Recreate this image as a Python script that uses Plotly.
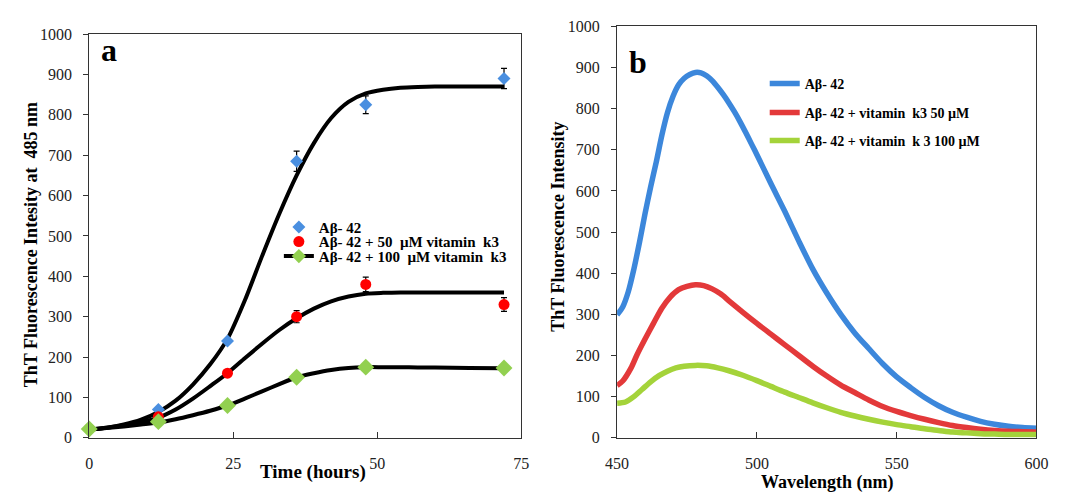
import plotly.graph_objects as go

# ---------------- Panel a data ----------------
time_h = [0, 12, 24, 36, 48, 72]
ab42 = [22, 70, 240, 685, 825, 890]
ab42_err = [0, 4, 6, 25, 22, 25]
k3_50 = [22, 52, 160, 300, 380, 330]
k3_50_err = [0, 4, 5, 15, 18, 17]
k3_100 = [22, 40, 80, 150, 175, 173]
k3_100_err = [0, 3, 4, 6, 8, 6]

# fitted black curves
fit_t = [0, 3, 6, 9, 12, 15, 18, 21, 24, 27, 30, 33, 36, 39, 42, 45, 48, 51, 54, 57, 60, 66, 72]
fit_ab42 = [20, 25, 33, 45, 64, 92, 132, 182, 245, 340, 450, 555, 650, 730, 792, 832, 853, 862, 867, 869, 870, 870, 870]
fit_k3_50 = [20, 25, 31, 39, 50, 70, 97, 128, 160, 197, 233, 267, 296, 320, 338, 350, 357, 359, 360, 360, 360, 360, 360]
fit_k3_100 = [20, 24, 28, 33, 38, 46, 56, 67, 80, 97, 115, 133, 150, 160, 168, 173, 175, 175, 175, 174, 174, 173, 172]

# ---------------- Panel b data ----------------
wl_blue = [450, 452, 454, 456, 458, 460, 462, 464, 466, 468, 470, 472, 474, 476, 478, 480, 482, 484, 486, 488,
           490, 492, 494, 496, 498, 500, 505, 510, 515, 520, 525, 530, 535, 540, 545, 550, 555, 560, 565, 570,
           575, 580, 585, 590, 595, 600]
int_blue = [299, 318, 355, 410, 475, 545, 610, 670, 735, 790, 830, 858, 874, 883, 888, 887, 880, 868, 852, 834,
            814, 792, 768, 742, 715, 688, 618, 550, 478, 410, 352, 300, 255, 217, 180, 148, 122, 98, 78, 62,
            50, 40, 33, 28, 25, 23]
wl_red = [450, 452, 455, 457, 460, 463, 466, 469, 472, 475, 478, 481, 484, 487, 490, 495, 500, 505, 510, 515,
          520, 525, 530, 535, 540, 545, 550, 555, 560, 565, 570, 575, 580, 585, 590, 595, 600]
int_red = [127, 138, 170, 200, 240, 278, 315, 342, 360, 368, 372, 370, 362, 350, 333, 305, 278, 252, 226, 200,
           174, 150, 128, 110, 92, 76, 64, 54, 45, 37, 30, 25, 21, 18, 16, 15, 14]
wl_green = [450, 453, 456, 459, 462, 465, 468, 471, 474, 478, 482, 486, 490, 495, 500, 505, 510, 515, 520, 525,
            530, 535, 540, 545, 550, 555, 560, 565, 570, 575, 580, 585, 590, 595, 600]
int_green = [84, 87, 100, 118, 136, 151, 162, 170, 174, 176, 175, 170, 163, 152, 139, 125, 111, 98, 85, 73,
             62, 53, 45, 38, 32, 27, 22, 18, 14, 12, 10, 9, 8, 8, 8]

names_a = ["Aβ- 42", "Aβ- 42 + 50  µM vitamin  k3", "Aβ- 42 + 100  µM vitamin  k3"]
names_b = ["Aβ- 42", "Aβ- 42 + vitamin  k3 50 µM", "Aβ- 42 + vitamin  k 3 100 µM"]

SERIF = "Liberation Serif, Times New Roman, serif"
W, H = 1069, 498

fig = go.Figure()

# fitted curves (panel a)
for yy in (fit_ab42, fit_k3_50, fit_k3_100):
    fig.add_trace(go.Scatter(x=fit_t, y=yy, mode="lines",
                             line=dict(color="black", width=4, shape="spline", smoothing=0.7),
                             showlegend=False, hoverinfo="skip", xaxis="x", yaxis="y"))

err_style = dict(type="data", color="black", thickness=1.2, width=3, visible=True)
fig.add_trace(go.Scatter(x=time_h, y=ab42, mode="markers", name="<b>%s</b>" % names_a[0],
                         marker=dict(symbol="diamond", size=10, color="#4A8FE0"),
                         error_y=dict(array=ab42_err, **err_style), cliponaxis=False,
                         xaxis="x", yaxis="y", legend="legend"))
fig.add_trace(go.Scatter(x=time_h, y=k3_50, mode="markers", name="<b>%s</b>" % names_a[1],
                         marker=dict(symbol="circle", size=11, color="#FF0000"),
                         error_y=dict(array=k3_50_err, **err_style), cliponaxis=False,
                         xaxis="x", yaxis="y", legend="legend5"))
fig.add_trace(go.Scatter(x=time_h, y=k3_100, mode="markers", name="<b>%s</b>" % names_a[2],
                         marker=dict(symbol="diamond", size=13, color="#92D050"),
                         error_y=dict(array=k3_100_err, **err_style), cliponaxis=False,
                         xaxis="x", yaxis="y", showlegend=False))
# legend entry for the third series (line + marker)
fig.add_trace(go.Scatter(x=[None], y=[None], mode="lines+markers", name="<b>%s</b>" % names_a[2],
                         line=dict(color="black", width=4),
                         marker=dict(symbol="diamond", size=11, color="#92D050"),
                         xaxis="x", yaxis="y", legend="legend6"))

# panel b spectra
cols_b = ["#3C87DB", "#E3393A", "#A4D33A"]
for i, (xx, yy) in enumerate(((wl_blue, int_blue), (wl_red, int_red), (wl_green, int_green))):
    fig.add_trace(go.Scatter(x=xx, y=yy, mode="lines", name="<b>%s</b>" % names_b[i],
                             line=dict(color=cols_b[i], width=5.5, shape="spline", smoothing=0.8),
                             xaxis="x2", yaxis="y2", legend="legend%d" % (i + 2)))


def fx(px):
    return px / W


def fy(py):
    return 1 - py / H


tickfont = dict(family=SERIF, size=16, color="#222")
common_x = dict(showgrid=False, zeroline=False, showline=True, linecolor="#333", linewidth=1.3, mirror=True,
                ticks="inside", ticklen=6, tickcolor="#333", tickfont=tickfont, ticklabelstandoff=11)
common_y = dict(showgrid=False, zeroline=False, showline=True, linecolor="#333", linewidth=1.3, mirror=True,
                ticks="outside", ticklen=5, tickcolor="#333", tickfont=tickfont, range=[0, 1000], dtick=100,
                ticklabelstandoff=8)

leg_font = dict(family=SERIF, size=14, color="black")
leg_font_a = dict(family=SERIF, size=15, color="black")


def leg(px, py, font):
    return dict(x=fx(px), y=fy(py), xanchor="left", yanchor="top", font=font,
                bgcolor="rgba(0,0,0,0)", itemsizing="trace")


fig.update_layout(
    width=W, height=H,
    margin=dict(l=0, r=0, t=0, b=0),
    paper_bgcolor="white", plot_bgcolor="white",
    xaxis=dict(domain=[fx(79), fx(521)], range=[0, 75], tickvals=[0, 25, 50, 75], anchor="y", **common_x),
    yaxis=dict(domain=[fy(445), fy(27)], anchor="x", **common_y),
    xaxis2=dict(domain=[fx(619), fx(1048)], range=[450, 600], tickvals=[450, 500, 550, 600], anchor="y2", **common_x),
    yaxis2=dict(domain=[fy(445), fy(19)], anchor="x2", **common_y),
    legend=leg(273, 210, leg_font_a),
    legend5=leg(273, 225, leg_font_a),
    legend6=leg(273, 240, leg_font_a),
    legend2=leg(770, 62, leg_font),
    legend3=leg(770, 92, leg_font),
    legend4=leg(770, 121, leg_font),
    showlegend=True,
)

ann = [
    dict(text="<b>a</b>", x=fx(99), y=fy(43), font=dict(family=SERIF, size=32, color="black")),
    dict(text="<b>b</b>", x=fx(640), y=fy(56), font=dict(family=SERIF, size=32, color="black")),
    dict(text="<b>Time (hours)</b>", x=fx(308), y=fy(480), font=dict(family=SERIF, size=19, color="black")),
    dict(text="<b>Wavelength (nm)</b>", x=fx(834), y=fy(491), font=dict(family=SERIF, size=18, color="black")),
    dict(text="<b>ThT Fluorescence Intesity at  485 nm</b>", x=fx(19), y=fy(245), textangle=-90,
         font=dict(family=SERIF, size=18, color="black")),
    dict(text="<b>ThT Fluorescence Intensity</b>", x=fx(559), y=fy(226), textangle=-90,
         font=dict(family=SERIF, size=18, color="black")),
]
for a in ann:
    a.update(xref="paper", yref="paper", showarrow=False, xanchor="center", yanchor="middle")
fig.update_layout(annotations=ann)

fig.write_html("out.html")
